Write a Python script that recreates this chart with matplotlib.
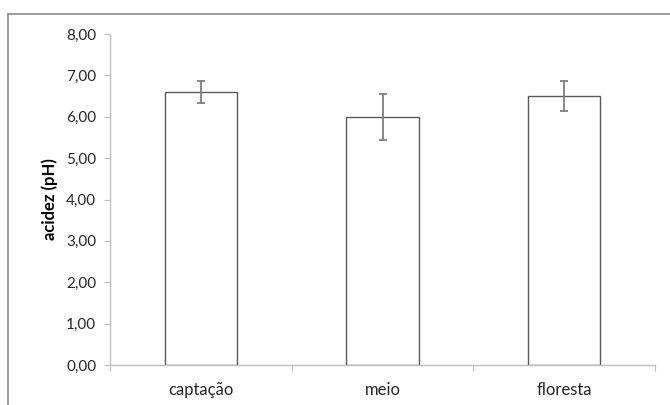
import numpy as np
import matplotlib
matplotlib.use("Agg")
import matplotlib.pyplot as plt
from matplotlib.lines import Line2D
from matplotlib.ticker import FuncFormatter

categories = ["captação", "meio", "floresta"]
ph_mean = [6.6, 6.0, 6.5]
ph_err = [0.26, 0.55, 0.37]

plt.rcParams["font.family"] = ["Lato", "DejaVu Sans"]

fig = plt.figure(figsize=(6.7, 4.05), dpi=100)
ax = fig.add_axes([0.1642, 0.0988, 0.8134, 0.8172])

x = np.arange(len(categories))
ax.bar(x, ph_mean, width=0.4, color="white", edgecolor="#595959", linewidth=1.0)
ax.errorbar(x, ph_mean, yerr=ph_err, fmt="none", ecolor="#7f7f7f",
            elinewidth=1.3, capsize=3, capthick=1.3)

ax.set_xlim(-0.5, len(categories) - 0.5)
ax.set_ylim(0, 8)
ax.set_yticks(np.arange(0, 9, 1))
ax.yaxis.set_major_formatter(FuncFormatter(lambda v, p: f"{v:.2f}".replace(".", ",")))

# category labels centred, ticks at the boundaries
ax.set_xticks(np.arange(-0.5, len(categories), 1))
ax.set_xticklabels([])
ax.set_xticks(x, minor=True)
ax.set_xticklabels(categories, minor=True)
ax.tick_params(axis="x", which="minor", length=0, labelsize=12, pad=12, colors="#262626")
ax.tick_params(axis="x", which="major", length=4, color="#bfbfbf", direction="out")
ax.tick_params(axis="y", length=4, color="#bfbfbf", labelsize=11, labelcolor="#262626", pad=6)

for s in ["top", "right"]:
    ax.spines[s].set_visible(False)
for s in ["left", "bottom"]:
    ax.spines[s].set_color("#bfbfbf")
    ax.spines[s].set_linewidth(1.0)

ax.set_ylabel("acidez (pH)", fontsize=12, fontweight="bold", color="#000000", labelpad=6)

# outer chart border (cropped on right and bottom)
fig.add_artist(Line2D([8 / 670, 8 / 670], [0, 1 - 14 / 405], transform=fig.transFigure,
                      color="#8c8c8c", linewidth=1.2))
fig.add_artist(Line2D([8 / 670, 1], [1 - 14 / 405, 1 - 14 / 405], transform=fig.transFigure,
                      color="#8c8c8c", linewidth=1.2))

fig.savefig("out.png", dpi=100)
